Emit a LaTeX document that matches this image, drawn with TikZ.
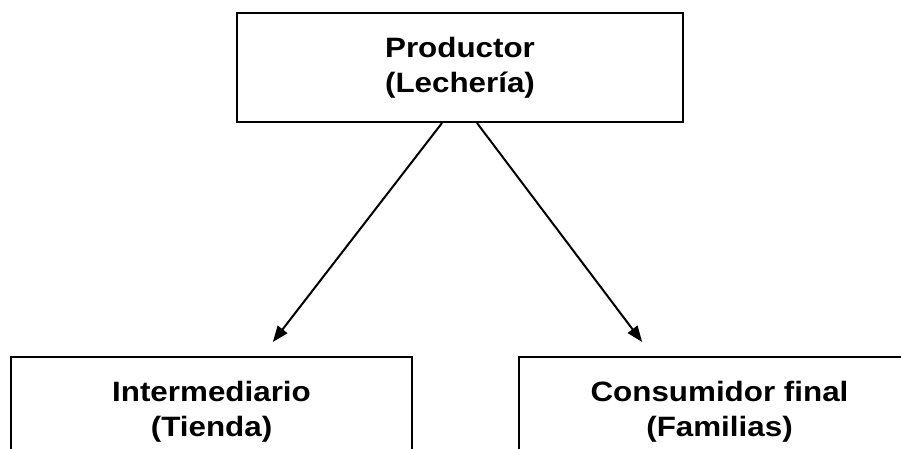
\documentclass[tikz,border=0pt]{standalone}
\usepackage{fontspec}
\setmainfont{Liberation Sans}[FakeStretch=1.12]
\usetikzlibrary{arrows.meta}

\begin{document}
\begin{tikzpicture}[x=0.75pt, y=-0.75pt,
    box/.style={draw, line width=1.5pt, minimum width=300.75pt, minimum height=81.75pt,
                align=center, font=\fontsize{21}{26.25}\selectfont\bfseries, inner sep=0pt},
    arrow/.style={-{Triangle[length=12pt, width=9pt]}, line width=1.5pt}]
  \useasboundingbox (0,0) rectangle (901,449);
  \clip (0,0) rectangle (901,449);

  \node[box, minimum width=334.5pt] (prod)  at (460,67.5)   {Productor\\(Lechería)};   % Top box
  \node[box]                        (inter) at (211.5,411.5) {Intermediario\\(Tienda)}; % Left box
  \node[box]                        (cons)  at (719.5,411.5) {Consumidor final\\(Familias)}; % Right box

  % Arrows
  \draw[arrow] ([xshift=-13.5pt]prod.south) -- ([xshift=46pt, yshift=10.5pt]inter.north);
  \draw[arrow] ([xshift=12.75pt]prod.south) -- ([xshift=-58pt, yshift=10.5pt]cons.north);
\end{tikzpicture}
\end{document}
